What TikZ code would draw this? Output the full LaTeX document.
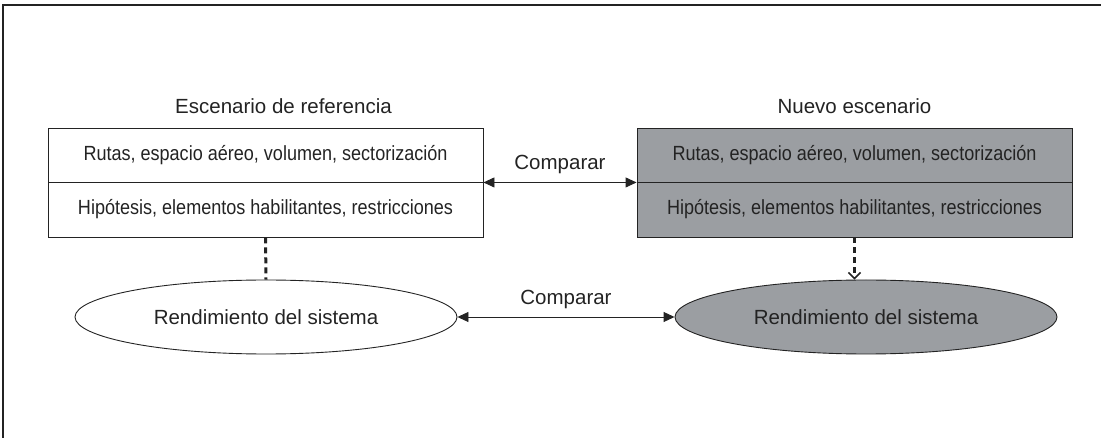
\documentclass[tikz,border=0pt]{standalone}
\usepackage{fontspec}
\usepackage{graphicx}
\setmainfont{Liberation Sans}
\usetikzlibrary{positioning,shapes.geometric,arrows.meta}
\definecolor{boxgray}{RGB}{155,158,162}
\definecolor{inkgray}{RGB}{35,35,35}
\newcommand{\boxtext}[1]{\scalebox{0.88}[1]{#1}}
\begin{document}
\begin{tikzpicture}[
    x=1pt, y=-1pt,
    every node/.style={font=\fontsize{20.5}{24}\selectfont, text=inkgray, inner sep=2pt},
    half/.style={draw=inkgray, line width=0.9pt, rectangle, minimum width=435pt},
    shaded/.style={fill=boxgray},
    perf/.style={draw=inkgray, line width=0.9pt, ellipse, minimum width=382pt, minimum height=74pt, inner sep=0pt},
    compare/.style={draw=inkgray, line width=0.9pt, {Triangle[length=11pt,width=10pt]}-{Triangle[length=11pt,width=10pt]}},
    dotline/.style={draw=inkgray, line width=3pt, dash pattern=on 6pt off 4pt}
]
\useasboundingbox (0,0) rectangle (1101,438);
\draw[draw=inkgray, line width=1.4pt] (3,438) -- (3,5) -- (1101,5);

\node[half, minimum height=54pt] (ltop) at (265.5,155) {\boxtext{Rutas, espacio aéreo, volumen, sectorización}};
\node[half, minimum height=55pt] (lbot) at (265.5,209.5) {\boxtext{Hipótesis, elementos habilitantes, restricciones}};
\node[half, shaded, minimum height=54pt] (rtop) at (854.5,155) {\boxtext{Rutas, espacio aéreo, volumen, sectorización}};
\node[half, shaded, minimum height=55pt] (rbot) at (854.5,209.5) {\boxtext{Hipótesis, elementos habilitantes, restricciones}};

\node[above=12pt of ltop, xshift=18pt] (ltitle) {Escenario de referencia};
\node[above=12pt of rtop] (rtitle) {Nuevo escenario};

\node[perf] (lperf) at (266,317) {Rendimiento del sistema};
\node[perf, fill=boxgray] (rperf) at (866,317) {Rendimiento del sistema};

\draw[compare] (ltop.south east) -- node[above=6pt] (tcmp) {Comparar} (rtop.south west);
\draw[compare] (lperf.east) -- node[above=6pt] (bcmp) {Comparar} (rperf.west);

\draw[dotline] (lbot.south) -- (lperf.north);
\draw[dotline, -{Straight Barb[length=6pt,width=12pt,line width=1.6pt]}] (rbot.south) -- (rbot.south |- rperf.north);
\end{tikzpicture}
\end{document}
